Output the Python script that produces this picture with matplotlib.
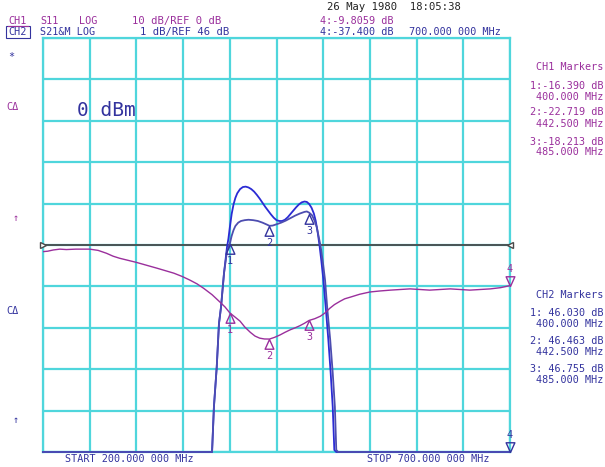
import numpy as np
import matplotlib
matplotlib.use('Agg')
import matplotlib.pyplot as plt
from matplotlib.patches import Rectangle
from matplotlib.lines import Line2D

W, H = 605, 467

# CH2 S21 (1 dB/div, ref 46 dB) - data trace (with markers)
s21_freq = [200, 300, 370, 379, 381, 383, 386, 388.4, 390.6, 393.8, 397, 400, 402, 404, 406,
            409, 412, 416, 420, 425, 430, 435, 440, 442.5, 446, 450, 455, 460, 465, 470,
            475, 480, 482.5, 485, 488, 490.5, 493, 495, 497.3, 500, 502, 504.5, 507.5,
            510.2, 512.5, 514, 516, 560, 700]
s21_data = [-30, -32, -30, 20, 41.0, 42.09, 43.05, 44.1, 44.5, 45.32, 45.85, 46.03, 46.22, 46.36, 46.46,
            46.54, 46.58, 46.60, 46.61, 46.60, 46.58, 46.54, 46.49, 46.463, 46.47, 46.50, 46.54, 46.59, 46.65, 46.71,
            46.76, 46.80, 46.81, 46.78, 46.72, 46.60, 46.44, 46.22, 45.96, 45.52, 45.15, 44.43, 43.71,
            42.91, 42.09, 41.05, 20, -30, -37.4]
# CH2 memory trace
mem_freq = [200, 300, 370, 379, 381, 383, 386, 388.4, 390.6, 393.8, 397, 398.5, 400, 402, 404,
            406, 408, 411, 414, 417, 420, 423, 426, 429, 432, 435, 438, 441, 444, 447, 450,
            453, 456, 459, 462, 465, 468, 471, 474, 477, 480, 482.5, 485, 487.5, 490, 492,
            494, 496, 498, 500, 502.7, 505.5, 508, 510.2, 511.9, 514, 560, 700]
mem_data = [-30, -32, -30, 20, 41.0, 42.09, 43.05, 44.1, 44.5, 45.32, 45.95, 46.15, 46.42, 46.75, 46.98,
            47.14, 47.25, 47.35, 47.40, 47.41, 47.39, 47.35, 47.29, 47.21, 47.12, 47.02, 46.92, 46.83, 46.74, 46.66, 46.60,
            46.58, 46.58, 46.61, 46.67, 46.75, 46.83, 46.91, 46.98, 47.03, 47.05, 47.04, 46.99, 46.90, 46.76, 46.58,
            46.32, 46.00, 45.62, 45.20, 44.50, 43.71, 42.91, 42.09, 41.05, 20, -30, -37.4]

# CH1 S11 (10 dB/div, ref 0 dB)
s11_freq = [200, 205, 211, 218, 225, 235, 250, 259, 268, 275, 282, 291, 300, 311, 322, 331,
            340, 349, 357, 365, 372, 381, 390, 395, 400, 405, 411, 416, 422, 427, 432, 437,
            442.5, 448, 454, 459, 464.5, 470, 475, 480, 485, 491, 497, 502, 507, 512, 518,
            523, 529, 539, 550, 561, 572, 593, 614, 636, 657, 679, 690, 700]
s11_data = [-1.6, -1.5, -1.2, -1.0, -1.1, -1.0, -1.0, -1.3, -2.0, -2.7, -3.2, -3.7, -4.2, -4.9, -5.6, -6.2,
            -6.8, -7.6, -8.45, -9.4, -10.46, -12.0, -13.9, -15.0, -16.39, -17.3, -18.4, -19.8, -21.1, -22.0, -22.5, -22.7,
            -22.72, -22.3, -21.7, -21.1, -20.5, -20.0, -19.5, -18.9, -18.21, -17.8, -17.2, -16.4, -15.3, -14.4, -13.6,
            -13.0, -12.6, -11.9, -11.35, -11.1, -10.9, -10.6, -10.9, -10.6, -10.9, -10.6, -10.3, -9.81]

mk_freq = [400.0, 442.5, 485.0]
ch1_mk = [-16.390, -22.719, -18.213]
ch2_mk = [46.030, 46.463, 46.755]
mk4_freq = 700.0
ch1_mk4 = -9.8059
ch2_mk4 = -37.400

MAG = '#9a2f9c'
BLU = '#33339e'
TRA = '#2b2bd4'
TRB = '#4d4db0'
CYAN = '#4fd6dc'
MONO = 'DejaVu Sans Mono'

fig = plt.figure(figsize=(W / 100, H / 100), dpi=100)
ax = fig.add_axes([43 / W, (H - 452) / H, 467 / W, 414 / H])
ax.set_xlim(200, 700)
ax.set_ylim(41, 51)
ax.set_xticks(np.linspace(200, 700, 11))
ax.set_yticks(np.arange(41, 52, 1))
ax.tick_params(length=0, labelbottom=False, labelleft=False)
ax.grid(True, color=CYAN, lw=1.6)
for sp in ax.spines.values():
    sp.set_color(CYAN)
    sp.set_linewidth(1.6)

ax2 = ax.twinx()
ax2.set_ylim(-50, 50)
ax2.set_yticks([])
for sp in ax2.spines.values():
    sp.set_visible(False)

# reference line
ax.axhline(46, color='#4a4a4a', lw=1.3, zorder=3)
ax.plot([200], [46], marker='>', ms=4, mfc='white', mec='#4a4a4a', clip_on=False, zorder=4)
ax.plot([700], [46], marker='<', ms=4, mfc='white', mec='#4a4a4a', clip_on=False, zorder=4)

lo = 41
ax.plot(mem_freq, np.maximum(mem_data, lo), color=TRA, lw=1.3, zorder=5, clip_on=False)
ax.plot(s21_freq, np.maximum(s21_data, lo), color=TRB, lw=1.3, zorder=5, clip_on=False)
ax2.plot(s11_freq, s11_data, color=MAG, lw=1.0, zorder=5)

up_tri = [(0, 0), (-0.45, -1), (0.45, -1), (0, 0)]
dn_tri = [(0, 0), (-0.45, 1), (0.45, 1), (0, 0)]


def marker(a, x, y, num, col, down=False):
    a.plot([x], [y], marker=dn_tri if down else up_tri, ms=14, mfc='none', mec=col,
           mew=1.0, clip_on=False, zorder=6)
    dy = 17 if down else -17
    a.annotate(str(num), (x, y), xytext=(0, dy), textcoords='offset pixels',
               ha='center', va='center', color=col, fontsize=7.3, family=MONO,
               annotation_clip=False)


for i, f in enumerate(mk_freq):
    marker(ax, f, ch2_mk[i], i + 1, BLU)
    marker(ax2, f, ch1_mk[i], i + 1, MAG)
marker(ax2, mk4_freq, ch1_mk4, 4, MAG, down=True)
marker(ax, mk4_freq, max(ch2_mk4, lo), 4, BLU, down=True)


def ptxt(x, y, s, color, ha='left', size=7.3):
    return fig.text(x / W, 1 - y / H, s, color=color, ha=ha, va='center',
                    fontsize=size, family=MONO)


ptxt(327, 7, '26 May 1980  18:05:38', '#222222', size=7.6)
ptxt(8, 21, 'CH1', MAG)
fig.add_artist(Line2D([8 / W, 28 / W], [1 - 26 / H, 1 - 26 / H], color=MAG, lw=0.8))
ptxt(40, 21, 'S11', MAG)
ptxt(79, 21, 'LOG', MAG)
ptxt(132, 21, '10 dB/REF 0 dB', MAG, size=7.6)
ptxt(320, 21, '4:-9.8059 dB', MAG)
ptxt(8, 32, 'CH2', BLU)
fig.add_artist(Rectangle((6 / W, 1 - 38 / H), 24 / W, 12 / H, transform=fig.transFigure,
                         fill=False, ec=BLU, lw=0.8))
ptxt(40, 32, 'S21&M LOG', BLU)
ptxt(140, 32, '1 dB/REF 46 dB', BLU, size=7.6)
ptxt(320, 32, '4:-37.400 dB', BLU)
ptxt(409, 32, '700.000 000 MHz', BLU)

ptxt(8, 57, '*', BLU)
ptxt(6, 107, 'CΔ', MAG)
ptxt(13, 218, '↑', MAG)
ptxt(6, 311, 'CΔ', BLU)
ptxt(13, 420, '↑', BLU)
ptxt(77, 110, '0 dBm', BLU, size=14)

ch1_lines = ['CH1 Markers',
             '1:%.3f dB' % ch1_mk[0], '%.3f MHz' % mk_freq[0],
             '2:%.3f dB' % ch1_mk[1], '%.3f MHz' % mk_freq[1],
             '3:%.3f dB' % ch1_mk[2], '%.3f MHz' % mk_freq[2]]
ch1_y = [67, 86, 97, 112, 124, 142, 152]
for s, y in zip(ch1_lines, ch1_y):
    ptxt(603, y, s, MAG, ha='right')

ch2_lines = ['CH2 Markers',
             '1: %.3f dB' % ch2_mk[0], '%.3f MHz' % mk_freq[0],
             '2: %.3f dB' % ch2_mk[1], '%.3f MHz' % mk_freq[1],
             '3: %.3f dB' % ch2_mk[2], '%.3f MHz' % mk_freq[2]]
ch2_y = [295, 313, 324, 341, 352, 369, 380]
for s, y in zip(ch2_lines, ch2_y):
    ptxt(603, y, s, BLU, ha='right')

ptxt(65, 459, 'START 200.000 000 MHz', BLU)
ptxt(367, 459, 'STOP 700.000 000 MHz', BLU)

fig.savefig('out.png', dpi=100, facecolor='white')
